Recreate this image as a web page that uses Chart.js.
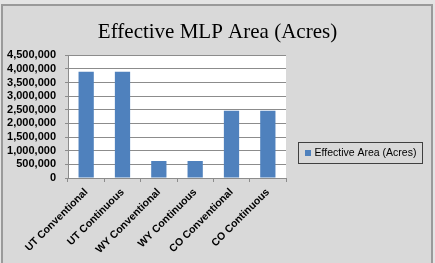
<!DOCTYPE html>
<html>
<head>
<meta charset="utf-8">
<script src="https://cdn.jsdelivr.net/npm/chart.js@4.4.1/dist/chart.umd.min.js"></script>
<style>
  html, body { margin: 0; padding: 0; background: #e4e4e4; }
  #wrap { position: relative; width: 435px; height: 263px; overflow: hidden; }
  #frame { position: absolute; left: 1px; top: 4px; width: 428px; height: 270px;
           border: 2px solid #9a9a9a; background: #d9d9d9; }
  #graficoBarras { position: absolute; left: 0; top: 0; }
</style>
</head>
<body>
<div id="wrap">
  <div id="frame"></div>
  <canvas id="graficoBarras" width="435" height="263"></canvas>
</div>
<script>
// Datos del gráfico
const categorias = ['UT Conventional', 'UT Continuous', 'WY Conventional', 'WY Continuous', 'CO Conventional', 'CO Continuous']
const areaEfectiva = [3890000, 3890000, 620000, 620000, 2460000, 2460000]
const serieNombre = 'Effective Area (Acres)'
const ejeYMax = 4500000
const ejeYPaso = 500000

const colorBarra = '#4f81bd'

// Fondo blanco del área de trazado y leyenda con borde (estilo Excel)
const fondoPlot = {
  id: 'fondoPlot',
  beforeDraw: (chart) => {
    const a = chart.chartArea
    const ctx = chart.ctx
    ctx.save()
    ctx.fillStyle = '#ffffff'
    ctx.fillRect(a.left, a.top, a.right - a.left, a.bottom - a.top)
    ctx.restore()
  },
  afterDraw: (chart) => {
    const ctx = chart.ctx
    const a = chart.chartArea
    const ds = chart.data.datasets[0]
    let x = a.right + 12.5
    let y = 142.5
    ctx.save()
    ctx.strokeStyle = '#404040'
    ctx.lineWidth = 1
    ctx.strokeRect(x, y, 124, 21)
    ctx.fillStyle = ds.backgroundColor
    ctx.fillRect(x + 6.5, y + 7.5, 6, 6)
    ctx.fillStyle = '#000000'
    ctx.font = '10.5px "Liberation Sans"'
    ctx.textBaseline = 'middle'
    ctx.fillText(ds.label, x + 16, y + 11)
    ctx.restore()
  }
}

const generarGrafico = () => {
  let canvas = document.getElementById('graficoBarras')
  new Chart(canvas, {
    type: 'bar',
    data: {
      labels: categorias,
      datasets: [{
        label: serieNombre,
        data: areaEfectiva,
        backgroundColor: colorBarra,
        borderWidth: 0,
        categoryPercentage: 1,
        barPercentage: 0.42
      }]
    },
    options: {
      responsive: false,
      animation: false,
      layout: { padding: 0 },
      plugins: {
        title: {
          display: true,
          text: 'Effective MLP Area (Acres)',
          color: '#000000',
          font: { family: 'Liberation Serif', size: 21, weight: 'normal', lineHeight: 1.2 },
          padding: { top: 20, bottom: 10 }
        },
        legend: { display: false },
        tooltip: { enabled: false }
      },
      scales: {
        x: {
          afterFit: (s) => { s.height = 85 },
          grid: { display: true, drawOnChartArea: false, offset: true, color: '#8c8c8c', tickLength: 4 },
          border: { color: '#8c8c8c' },
          ticks: {
            color: '#000000',
            font: { family: 'Liberation Sans', size: 10.5, weight: 'bold' },
            maxRotation: 45,
            minRotation: 45,
            autoSkip: false,
            padding: 4
          }
        },
        y: {
          min: 0,
          max: ejeYMax,
          afterFit: (s) => { s.width = 68 },
          grid: { color: '#8c8c8c', tickLength: 3 },
          border: { color: '#8c8c8c' },
          ticks: {
            stepSize: ejeYPaso,
            autoSkip: false,
            color: '#000000',
            font: { family: 'Liberation Sans', size: 11, weight: 'bold' },
            padding: 9,
            callback: (v) => v.toLocaleString('en-US')
          }
        },
        // espacio reservado a la derecha para la leyenda
        derecha: {
          position: 'right',
          display: true,
          afterFit: (s) => { s.width = 149 },
          grid: { display: false },
          border: { display: false },
          ticks: { display: false }
        }
      }
    },
    plugins: [fondoPlot]
  })
}

generarGrafico()
</script>
</body>
</html>
